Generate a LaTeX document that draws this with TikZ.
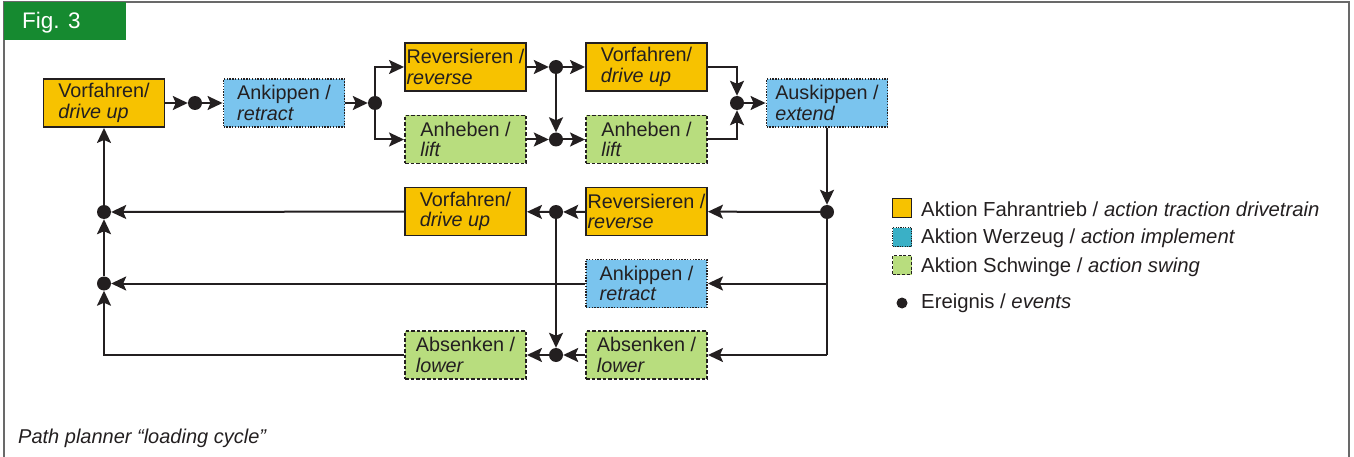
\documentclass[tikz,border=0pt]{standalone}
\usepackage{fontspec}
\setmainfont{Liberation Sans}
\usetikzlibrary{arrows.meta}
\definecolor{txt}{RGB}{35,31,32}
\definecolor{orng}{RGB}{247,194,0}
\definecolor{blu}{RGB}{122,196,238}
\definecolor{teal}{RGB}{58,176,198}
\definecolor{grn}{RGB}{184,221,126}
\definecolor{figgreen}{RGB}{22,138,48}
\definecolor{frame}{RGB}{105,105,105}
\begin{document}
\begin{tikzpicture}[x=1pt,y=-1pt,
  every node/.style={text=txt},
  box/.style={draw=txt, line width=1.9pt, minimum width=121pt, minimum height=48pt, inner sep=0pt, align=left, font=\fontsize{19.8}{20.5}\selectfont},
  drv/.style={box, fill=orng},
  tool/.style={box, fill=blu, dash pattern=on 1.4pt off 1.4pt},
  swing/.style={box, fill=grn, dash pattern=on 3.5pt off 2pt},
  dot/.style={circle, fill=txt, inner sep=0pt, minimum size=14pt},
  arr/.style={draw=txt, line width=2pt, -{Stealth[length=15pt,width=14pt,inset=3pt]}},
  ln/.style={draw=txt, line width=2pt},
  swatch/.style={minimum size=19pt, inner sep=0pt, line width=1.4pt, draw=txt},
  legtext/.style={anchor=west, inner sep=0pt, font=\fontsize{20.3}{22}\selectfont}
]
\useasboundingbox (0,0) rectangle (1354,457);
% frame
\draw[frame, line width=2pt] (4,457) -- (4,2) -- (1349,2) -- (1349,457);
\node[fill=figgreen, minimum width=122pt, minimum height=38pt, inner sep=0pt, anchor=north west] (fig) at (4,2) {};
\node[anchor=base west, text=white, inner sep=0pt, font=\fontsize{22.5}{24}\selectfont] (figt) at (22,29) {Fig. 3};

% top part
\node[drv] (b1) at (104,103) {Vorfahren/\\\textit{drive up}};
\node[dot] (j1) at (195,103) {};
\node[tool] (b2) at (284,103) {Ankippen /\\\textit{retract}};
\node[dot] (j2) at (375,103) {};
\node[drv] (b3) at (465.5,67) {Reversieren /\\\textit{reverse}};
\node[swing] (b4) at (465.5,139.5) {Anheben /\\\textit{lift}};
\node[dot] (j3) at (556,67) {};
\node[dot] (j4) at (556,139.5) {};
\node[drv] (b5) at (646.5,67) {Vorfahren/\\\textit{drive up}};
\node[swing] (b6) at (646.5,139.5) {Anheben /\\\textit{lift}};
\node[dot] (j5) at (737,103) {};
\node[tool] (b7) at (827,103) {Auskippen /\\\textit{extend}};

% return part
\node[dot] (j6) at (827,212) {};
\node[drv] (b8) at (646.5,211.5) {Reversieren /\\\textit{reverse}};
\node[dot] (j7) at (556,212) {};
\node[drv] (b9) at (465.5,211.5) {Vorfahren/\\\textit{drive up}};
\node[dot] (j9) at (104,212) {};
\node[tool] (b10) at (646.5,283.5) {Ankippen /\\\textit{retract}};
\node[dot] (j10) at (104,283.5) {};
\node[swing] (b11) at (646.5,355) {Absenken /\\\textit{lower}};
\node[dot] (j8) at (556,355) {};
\node[swing] (b12) at (465.5,355) {Absenken /\\\textit{lower}};
\coordinate (c1) at (827,283.5);
\coordinate (c2) at (827,355);

% connectors top
\draw[arr] (b1) -- (j1);
\draw[arr] (j1) -- (b2);
\draw[arr] (b2) -- (j2);
\draw[arr] (j2) |- (b3);
\draw[arr] (j2) |- (b4);
\draw[arr] (b3) -- (j3);
\draw[arr] (b4) -- (j4);
\draw[arr] (j3) -- (j4);
\draw[arr] (j3) -- (b5);
\draw[arr] (j4) -- (b6);
\draw[arr] (b5) -| (j5);
\draw[arr] (b6) -| (j5);
\draw[arr] (j5) -- (b7);
\draw[arr] (b7) -- (j6);

% connectors return
\draw[ln] (j6) -- (c2);
\draw[arr] (j6) -- (b8);
\draw[arr] (c1) -- (b10);
\draw[arr] (c2) -- (b11);
\draw[arr] (b8) -- (j7);
\draw[arr] (j7) -- (b9);
\draw[arr] (j7) -- (j8);
\draw[arr] (b9) -- (j9);
\draw[arr] (b10) -- (j10);
\draw[arr] (b11) -- (j8);
\draw[arr] (j8) -- (b12);
\draw[arr] (b12) -| (j10);
\draw[arr] (j10) -- (j9);
\draw[arr] (j9) -- (b1);

% legend
\node[swatch, fill=orng] (s1) at (902,208) {};
\node[swatch, fill=teal, dash pattern=on 1.2pt off 1.2pt] (s2) at (902,237) {};
\node[swatch, fill=grn, dash pattern=on 3pt off 1.8pt] (s3) at (902,265) {};
\node[dot, minimum size=11pt] (s4) at (902,303) {};
\node[legtext] (t1) at (921,209) {Aktion Fahrantrieb / \textit{action traction drivetrain}};
\node[legtext] (t2) at (921,238) {Aktion Werzeug / \textit{action implement}};
\node[legtext] (t3) at (921,267) {Aktion Schwinge / \textit{action swing}};
\node[legtext] (t4) at (921,303) {Ereignis / \textit{events}};

% caption
\node[anchor=base west, inner sep=0pt, font=\fontsize{20}{22}\selectfont\itshape] (cap) at (18,443) {Path planner “loading cycle”};
\end{tikzpicture}
\end{document}
